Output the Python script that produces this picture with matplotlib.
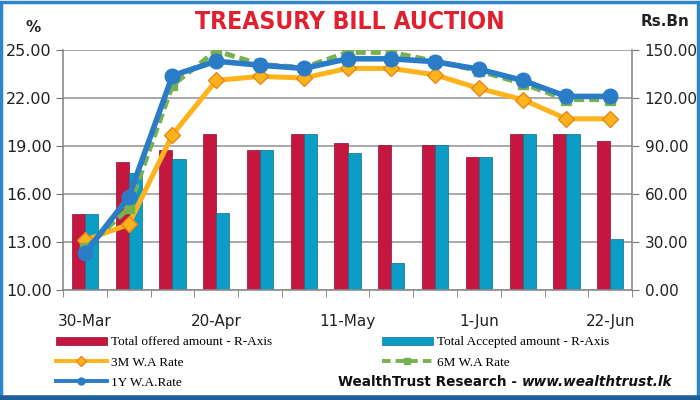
import numpy as np
import matplotlib.pyplot as plt
from matplotlib.patches import Rectangle
from matplotlib.lines import Line2D

# weekly auctions
dates = ['30-Mar', '6-Apr', '13-Apr', '20-Apr', '27-Apr', '4-May', '11-May',
         '18-May', '25-May', '1-Jun', '8-Jun', '15-Jun', '22-Jun']
offered = [47.5, 80.0, 87.5, 97.5, 87.5, 97.5, 92.0, 90.6, 90.6, 82.9, 97.5, 97.5, 93.0]
accepted = [47.5, 72.9, 81.9, 47.9, 87.5, 97.5, 85.8, 16.7, 90.6, 82.9, 97.5, 97.5, 31.7]
rate_3m = [13.1, 14.1, 19.7, 23.1, 23.35, 23.25, 23.85, 23.85, 23.45, 22.6, 21.9, 20.7, 20.7]
rate_6m = [12.6, 15.1, 22.8, 24.95, 24.1, 23.9, 24.85, 24.85, 24.3, 23.7, 22.9, 21.9, 21.9]
rate_1y = [12.3, 15.8, 23.4, 24.3, 24.05, 23.85, 24.45, 24.45, 24.27, 23.8, 23.1, 22.1, 22.1]

fig = plt.figure(figsize=(7, 4), dpi=100)
fig.patch.set_facecolor('white')

ax = fig.add_axes([0.09, 0.275, 0.813, 0.6])
ax2 = ax.twinx()

x = np.arange(len(dates))
w = 0.3
b1 = ax.bar(x - w/2, offered, w, color='#c4163f', edgecolor='#8a1030', linewidth=0.5)
b2 = ax.bar(x + w/2, accepted, w, color='#0b9dc5', edgecolor='#0a6f8c', linewidth=0.5)
ax.set_ylim(0, 150)
ax.set_xlim(-0.5, len(dates) - 0.5)
ax.yaxis.tick_right()
ax.set_yticks(np.arange(0, 151, 30))
ax.set_yticklabels(['%.2f' % v for v in np.arange(0, 151, 30)])
ax.grid(axis='y', color='#999999', linewidth=1.2)
ax.set_axisbelow(True)
ax.set_xticks(np.arange(-0.5, len(dates), 1), minor=True)
ax.set_xticks(x[::3])
ax.set_xticklabels(dates[::3])
ax.tick_params(axis='x', which='major', length=0, pad=17, labelsize=11, labelcolor='#222222')
ax.tick_params(axis='x', which='minor', length=5, color='#777777')
ax.tick_params(axis='y', length=5, color='#777777', labelsize=11, labelcolor='#222222', pad=4)
ax.spines['top'].set_visible(False)
for s in ['left', 'right', 'bottom']:
    ax.spines[s].set_color('#8c8c8c')
    ax.spines[s].set_linewidth(1.2)

ax2.set_ylim(10, 25)
ax2.yaxis.tick_left()
ax2.set_yticks(np.arange(10, 25.1, 3))
ax2.set_yticklabels(['%.2f' % v for v in np.arange(10, 25.1, 3)])
ax2.tick_params(axis='y', length=5, color='#777777', labelsize=11.5, labelcolor='#222222', pad=3)
for s in ax2.spines.values():
    s.set_visible(False)

l3, = ax2.plot(x, rate_3m, color='#ffb31a', lw=3.6, marker='D', ms=8.5,
               mfc='#ffb31a', mec='#e8861a', mew=1, zorder=3)
l6, = ax2.plot(x, rate_6m, color='#77b150', lw=3.6, ls=(0, (2, 1)), marker='s', ms=7,
               mfc='#77b150', mec='#77b150', zorder=4)
l1, = ax2.plot(x, rate_1y, color='#2a7cc7', lw=4.0, marker='o', ms=10.5,
               mfc='#2a7cc7', mec='#2a7cc7', zorder=5)

title = fig.text(0.5, 0.945, 'TREASURY BILL AUCTION', ha='center', va='center',
                 color='#e0202e', fontsize=23, fontweight='bold', fontstretch='condensed',
                 family=['DejaVu Sans'])
fig.text(0.047, 0.93, '%', ha='center', va='center', fontsize=11, fontweight='bold', color='#222222')
fig.text(0.95, 0.945, 'Rs.Bn', ha='center', va='center', fontsize=11, fontweight='bold', color='#222222')

# legend handles as in the original (thinner lines, small markers)
h3 = Line2D([], [], color='#ffb31a', lw=2.8, marker='D', ms=5, mfc='#ffb31a', mec='#e8861a')
h6 = Line2D([], [], color='#77b150', lw=2.8, ls=(0, (2.2, 1.3)), marker='s', ms=5, mfc='#77b150', mec='#77b150')
h1 = Line2D([], [], color='#2a7cc7', lw=2.8, marker='o', ms=5, mfc='#2a7cc7', mec='#2a7cc7')
leg = fig.legend([b1, h3, h1, b2, h6],
                 ['Total offered amount - R-Axis', '3M W.A Rate', '1Y W.A.Rate',
                  'Total Accepted amount - R-Axis', '6M W.A Rate'],
                 ncol=2, loc='upper left', bbox_to_anchor=(0.072, 0.172),
                 frameon=False, prop={'family': 'Liberation Serif', 'size': 9.5},
                 handlelength=3.9, handleheight=0.6, handletextpad=0.3, columnspacing=8.3,
                 labelspacing=0.62, borderaxespad=0)

prefix = fig.text(0.96, 0.045, 'WealthTrust Research - ', ha='right', va='center', fontsize=9.8,
                  fontweight='bold', color='#111111')
url = fig.text(0.96, 0.045, 'www.wealthtrust.lk', ha='left', va='center', fontsize=9.8,
               fontweight='bold', style='italic', color='#111111')

fig.canvas.draw()
r = fig.canvas.get_renderer()
bb = url.get_window_extent(r)
url.set_position((0.96 - bb.width / 700, 0.045))
prefix.set_position((0.96 - bb.width / 700, 0.045))

# fit title width to the original (~300 px)
tb = title.get_window_extent(r)
title.set_fontsize(23 * min(1.0, 310 / tb.width))

fig.add_artist(Rectangle((0.002, 0.006), 0.995, 0.99, transform=fig.transFigure,
                         fill=False, edgecolor='#2e86c8', linewidth=2.5))
fig.add_artist(Line2D([0, 1], [0.004, 0.004], transform=fig.transFigure,
                      color='#1d5f9a', linewidth=4))

fig.savefig('out.png', dpi=100)
